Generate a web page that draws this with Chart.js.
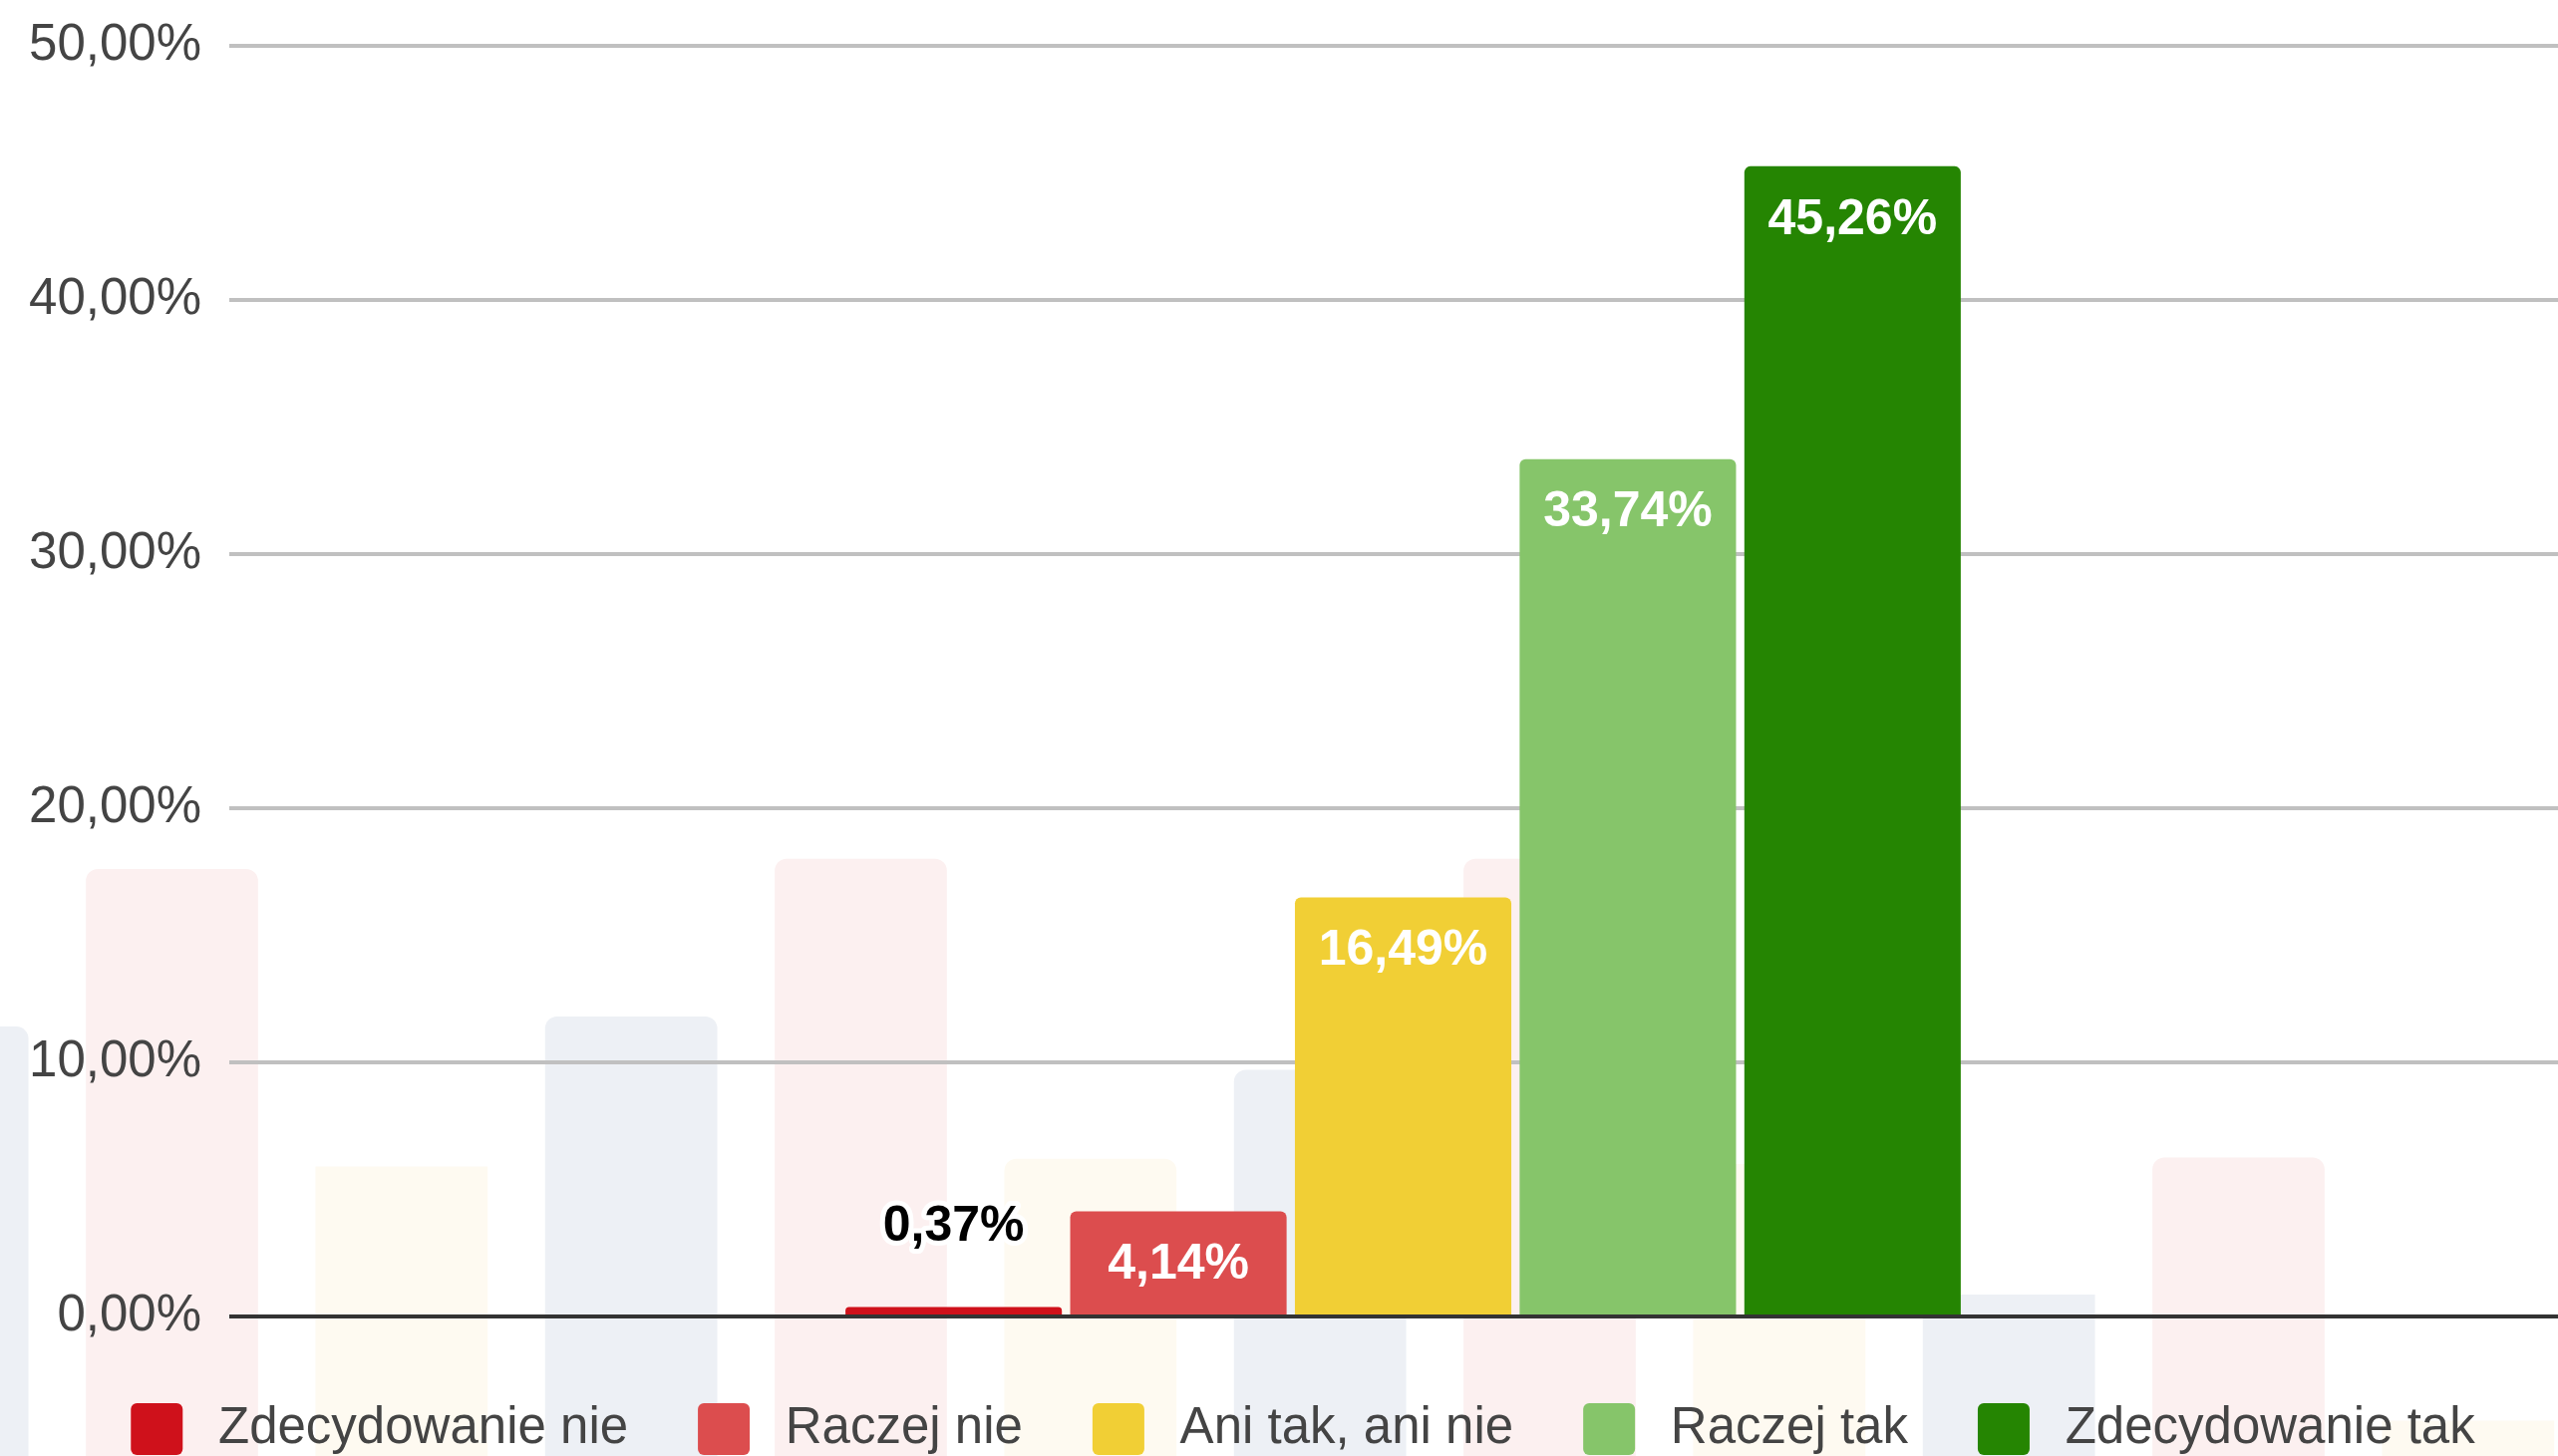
<!DOCTYPE html>
<html lang="pl">

<head>
    <meta charset="UTF-8">
    <title>Zdecydowanie nie / Zdecydowanie tak</title>
    <style>
        html, body {
            margin: 0;
            padding: 0;
            background: #ffffff;
            overflow: hidden;
        }

        #stage {
            position: relative;
            width: 2566px;
            height: 1461px;
            overflow: hidden;
        }

        #bgChart {
            position: absolute;
            left: -173px;
            top: 0;
        }

        #mainChart {
            position: absolute;
            left: 0;
            top: 0;
        }
    </style>
</head>

<body>
    <div id="stage">
        <canvas id="bgChart" width="2764" height="1461"></canvas>
        <canvas id="mainChart" width="2614" height="1470"></canvas>
    </div>

    <script src="https://cdn.jsdelivr.net/npm/chart.js"></script>
    <script>
        // data
        const categories = ['Odpowiedzi'];
        const seriesNames = ['Zdecydowanie nie', 'Raczej nie', 'Ani tak, ani nie', 'Raczej tak', 'Zdecydowanie tak'];
        const seriesValues = [0.37, 4.14, 16.49, 33.74, 45.26];
        const seriesColors = ['#cf111b', '#dc4d4e', '#f1cf35', '#86c56a', '#258502'];
        const yTicks = [0, 10, 20, 30, 40, 50];

        // faint bars in the background (same % units as the main axis)
        const bgBarTops = [11.4, 17.6, 5.9, 11.8, 18.0, 6.2, 9.7, 18.0, 6.0, 0.86, 6.25, -4.1];
        const bgBarTints = ['#edf0f5', '#fcf0f0', '#fefaf1'];

        const FONT = '"Liberation Sans", Arial, sans-serif';
        const pct = v => v.toFixed(2).replace('.', ',') + '%';

        // background chart
        new Chart(document.getElementById('bgChart'), {
            type: 'bar',
            data: {
                labels: bgBarTops.map((_, i) => i),
                datasets: [{
                    data: bgBarTops.map(v => [-6, v]),
                    backgroundColor: bgBarTops.map((_, i) => bgBarTints[i % 3]),
                    borderRadius: 12,
                    borderSkipped: 'start',
                    barPercentage: 0.75,
                    categoryPercentage: 1
                }]
            },
            options: {
                responsive: false,
                animation: false,
                events: [],
                layout: { padding: 0 },
                plugins: { legend: { display: false }, tooltip: { enabled: false } },
                scales: {
                    x: { display: false },
                    y: { display: false, min: -5.49, max: 51.78 }
                }
            }
        });

        // value labels on the bars
        const valueLabels = {
            id: 'valueLabels',
            afterDatasetsDraw(chart) {
                const ctx = chart.ctx;
                ctx.save();
                ctx.font = 'bold 50px ' + FONT;
                ctx.textAlign = 'center';
                ctx.textBaseline = 'middle';
                chart.data.datasets.forEach((ds, i) => {
                    const bar = chart.getDatasetMeta(i).data[0];
                    const text = pct(ds.data[0]);
                    if (bar.base - bar.y > 60) {
                        ctx.fillStyle = '#ffffff';
                        ctx.fillText(text, bar.x, bar.y + 54);
                    } else {
                        ctx.lineJoin = 'round';
                        ctx.lineWidth = 10;
                        ctx.strokeStyle = '#ffffff';
                        ctx.strokeText(text, bar.x, bar.y - 80);
                        ctx.fillStyle = '#000000';
                        ctx.fillText(text, bar.x, bar.y - 80);
                    }
                });
                ctx.restore();
            }
        };

        new Chart(document.getElementById('mainChart'), {
            type: 'bar',
            data: {
                labels: categories,
                datasets: seriesNames.map((name, i) => ({
                    label: name,
                    data: [seriesValues[i]],
                    backgroundColor: seriesColors[i],
                    borderWidth: 0,
                    borderRadius: 6,
                    borderSkipped: 'start',
                    barPercentage: 0.963,
                    categoryPercentage: 0.4786
                }))
            },
            options: {
                responsive: false,
                animation: false,
                events: [],
                layout: { padding: { top: 46, left: 0, right: 0, bottom: 0 } },
                plugins: {
                    tooltip: { enabled: false },
                    legend: {
                        position: 'bottom',
                        labels: {
                            font: { family: FONT, size: 51 },
                            color: '#444444',
                            boxWidth: 52,
                            boxHeight: 52,
                            padding: 70,
                            useBorderRadius: true,
                            borderRadius: 6,
                            generateLabels(chart) {
                                const items = Chart.defaults.plugins.legend.labels.generateLabels(chart);
                                items.forEach(it => { it.text = '\u2009' + it.text; it.lineWidth = 0; });
                                return items;
                            }
                        }
                    }
                },
                scales: {
                    x: {
                        display: true,
                        afterFit: s => { s.height = 17; },
                        ticks: { display: false },
                        grid: { display: false },
                        border: { display: false }
                    },
                    y: {
                        min: 0,
                        max: 50,
                        afterFit: s => { s.width = 230; s.paddingTop = 0; s.paddingBottom = 0; },
                        afterBuildTicks: s => { s.ticks = yTicks.map(v => ({ value: v })); },
                        ticks: {
                            padding: 28,
                            color: '#444444',
                            font: { family: FONT, size: 51 },
                            callback: v => pct(v)
                        },
                        grid: {
                            drawTicks: false,
                            lineWidth: 4,
                            color: c => (c.tick && c.tick.value === 0) ? '#333333' : '#c0c0c0'
                        },
                        border: { display: false }
                    },
                    yR: {
                        position: 'right',
                        display: true,
                        afterFit: s => { s.width = 29; },
                        ticks: { display: false },
                        grid: { display: false },
                        border: { display: false }
                    }
                }
            },
            plugins: [valueLabels]
        });
    </script>
</body>

</html>
